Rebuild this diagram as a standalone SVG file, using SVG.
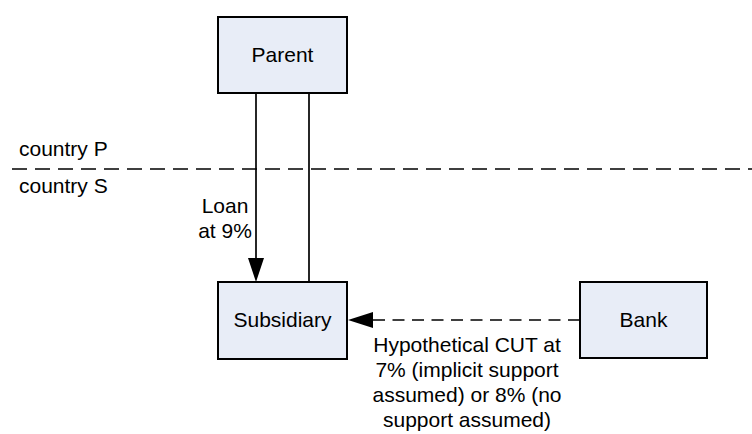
<svg xmlns="http://www.w3.org/2000/svg" width="752" height="434" viewBox="0 0 752 434">
<style>
.box{fill:#e8edf7;stroke:#000;stroke-width:2}
text{font-family:"Liberation Sans",Arial,sans-serif;font-size:21px;fill:#000}
.c{text-anchor:middle}
.ln{stroke:#000;stroke-width:1.7;fill:none}
</style>
<rect width="752" height="434" fill="#fff"/>
<g id="regions">
<line class="ln" x1="12" y1="169" x2="752" y2="169" stroke-dasharray="15,8"/>
<text x="19" y="156">country P</text>
<text x="19" y="193">country S</text>
</g>
<g id="connectors">
<g id="loan">
<line class="ln" x1="256" y1="93" x2="256" y2="258"/>
<path d="M248,258 L264,258 L256,282 z" fill="#000"/>
<text class="c" x="225" y="213">Loan</text>
<text class="c" x="225" y="238">at 9%</text>
</g>
<line id="ownership" class="ln" x1="309" y1="93" x2="309" y2="282"/>
<g id="cut">
<line class="ln" x1="580" y1="320" x2="372" y2="320" stroke-dasharray="12,7.5"/>
<path d="M373,312 L373,328 L348,320 z" fill="#000"/>
<text class="c" x="467" y="352">Hypothetical CUT at</text>
<text class="c" x="467" y="377">7% (implicit support</text>
<text class="c" x="467" y="402">assumed) or 8% (no</text>
<text class="c" x="467" y="427">support assumed)</text>
</g>
</g>
<g id="parent">
<rect class="box" x="218" y="17" width="129" height="76"/>
<text class="c" x="282.5" y="62">Parent</text>
</g>
<g id="subsidiary">
<rect class="box" x="218" y="282" width="129" height="77"/>
<text class="c" x="282.5" y="327">Subsidiary</text>
</g>
<g id="bank">
<rect class="box" x="580" y="282" width="127" height="76"/>
<text class="c" x="643.5" y="327">Bank</text>
</g>
</svg>
